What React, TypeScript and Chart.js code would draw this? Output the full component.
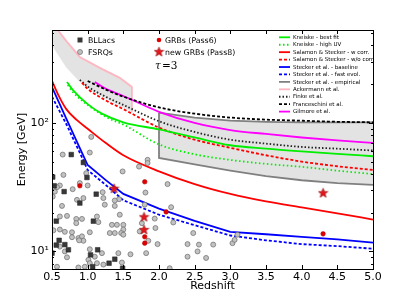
import React, { useEffect, useRef } from "react";
import { Chart, registerables } from "chart.js";

Chart.register(...registerables);

// ---------- data (redshift z, energy E in GeV) ----------
const fsrqZ = [0.65, 1.03, 0.98, 0.66, 0.89, 1.0, 0.61, 0.57, 0.79, 0.54, 1.21, 0.51, 1.22, 0.85, 0.94, 1.44, 1.38, 1.24, 0.64, 1.38,
  0.61, 0.71, 0.84, 0.92, 0.84, 1.13, 1.15, 1.34, 1.41, 0.52, 0.61, 0.68, 0.78, 0.78, 0.87, 0.92, 0.94, 1.03, 1.31, 1.38,
  0.88, 0.61, 0.68, 0.71, 1.03, 1.2, 1.1, 1.01, 1.03, 1.13, 1.22, 0.96, 0.87, 0.57, 1.43, 1.84, 1.84, 1.72, 1.49, 2.12,
  1.81, 1.8, 2.17, 1.45, 1.5, 1.5, 1.47, 1.5, 1.76, 1.95, 1.73, 1.85, 1.98, 2.2, 2.4, 1.6, 1.82, 1.48, 2.15, 2.48,
  2.56, 2.76, 2.54, 2.4, 2.66, 3.03, 3.06, 3.1, 1.05, 1.94];
const fsrqE = [56.7, 58.8, 40.6, 39.4, 34.0, 32.6, 32.6, 31.6, 30.5, 29.2, 28.9, 26.7, 26.0, 25.2, 26.0, 25.5, 24.9, 23.1, 22.6, 22.6,
  18.7, 18.9, 17.9, 17.9, 16.6, 18.7, 16.9, 16.1, 16.1, 14.6, 14.8, 14.2, 14.1, 12.9, 12.7, 13.1, 12.1, 14.1, 13.9, 13.9,
  12.2, 10.9, 10.0, 9.0, 10.4, 9.7, 9.1, 8.6, 8.1, 8.1, 7.9, 7.6, 7.5, 7.6, 9.7, 51.6, 48.7, 45.7, 41.9, 33.4,
  28.7, 23.1, 22.1, 19.3, 16.1, 14.8, 13.9, 13.5, 16.6, 15.2, 14.3, 12.1, 11.4, 16.8, 11.4, 9.5, 9.7, 8.2, 7.4, 13.9,
  11.3, 11.3, 10.0, 9.1, 8.9, 11.6, 12.3, 13.5, 77.8, 18.0];

const bllacZ = [0.77, 0.94, 0.99, 0.51, 0.53, 0.67, 1.12, 0.89, 0.56, 1.08, 0.6, 0.56, 0.68, 0.73, 1.14, 1.04, 1.3, 1.38, 1.07, 1.49, 0.5];
const bllacE = [56.7, 49.2, 37.6, 37.9, 32.4, 29.2, 27.9, 23.8, 17.2, 17.2, 12.2, 11.2, 11.3, 10.3, 10.3, 9.4, 8.1, 8.7, 7.6, 7.4, 9.7];

const grbP6Z = [0.89, 1.8, 2.1, 1.8, 1.8, 4.3];
const grbP6E = [32.4, 34.8, 20.3, 13.0, 11.6, 13.7];
const grbP8Z = [1.37, 1.79, 1.79, 4.3];
const grbP8E = [31, 18.6, 14.8, 28.6];

// EBL model curves
const kneiskeBestZ = [0.71, 0.8, 1.0, 1.2, 1.5, 2.0, 2.5, 3.0, 3.5, 4.0, 4.5, 5.0];
const kneiskeBestE = [208, 178, 140, 118, 101, 89, 77, 67, 63, 60, 57.5, 55];
const kneiskeHighZ = [0.72, 0.8, 1.0, 1.3, 1.5, 2.0, 2.5, 3.0, 3.5, 4.0, 4.5, 5.0];
const kneiskeHighE = [197, 172, 138, 108, 97, 68, 57, 51.5, 48, 45.5, 42.5, 40];
const salamonWZ = [0.5, 0.6, 0.7, 0.85, 1.0, 1.25, 1.5, 2.0, 2.5, 3.0, 3.5, 4.0, 4.5, 5.0];
const salamonWE = [212, 160, 128, 105, 90, 70, 56, 42, 33.4, 28, 24.5, 22, 19.8, 17.7];
const salamonWoZ = [0.92, 1.0, 1.25, 1.5, 2.0, 2.5, 3.0, 3.5, 4.0, 4.5, 5.0];
const salamonWoE = [205, 184, 150, 128, 92, 74, 64, 56, 50, 46, 43];
const steckerBaseZ = [0.5, 0.7, 0.9, 1.0, 1.25, 1.5, 2.0, 2.5, 3.0, 3.5, 4.0, 4.5, 5.0];
const steckerBaseE = [190, 108, 62, 47, 36, 28, 21.5, 17.3, 14.2, 13.6, 13.0, 12.4, 11.7];
const steckerFastZ = [0.5, 0.7, 0.9, 1.0, 1.25, 1.5, 2.0, 2.5, 3.0, 3.5, 4.0, 4.5, 5.0];
const steckerFastE = [160, 98, 57, 43, 33, 25, 19.3, 16, 13.3, 12.2, 11.4, 11.0, 10.5];
const steckerEmpUpZ = [2.0, 2.5, 3.0, 3.5, 4.0, 4.5, 5.0];
const steckerEmpUpE = [120, 110, 104, 102, 101, 101, 101];
const steckerEmpLoZ = [2.0, 2.0, 2.5, 3.0, 3.5, 4.0, 4.5, 5.0];
const steckerEmpLoE = [120, 53.4, 47.5, 42.5, 38.5, 35.8, 34, 33];
const ackermannUpZ = [0.5, 0.58, 0.71, 0.89, 1.17, 1.45, 1.62, 1.62];
const ackermannUpE = [640, 528, 427, 326, 268, 224, 190, 122];
const ackermannLoZ = [0.5, 0.7, 0.89, 1.1, 1.3, 1.62];
const ackermannLoE = [400, 270, 208, 172, 150, 122];
const finkeZ = [0.89, 1.0, 1.25, 1.5, 2.0, 2.5, 3.0, 3.5, 4.0, 4.5, 5.0];
const finkeE = [216, 192, 160, 138, 103, 85, 74, 69, 65, 63, 61];
const franceschiniZ = [1.0, 1.25, 1.5, 2.0, 2.5, 3.0, 3.5, 4.0, 4.5, 5.0];
const franceschiniE = [212, 182, 160, 132, 118, 110, 106, 104, 102, 101];
const gilmoreZ = [1.1, 1.25, 1.5, 2.0, 2.5, 3.0, 3.5, 4.0, 4.5, 5.0];
const gilmoreE = [208, 185, 162, 122, 100, 88, 82, 77, 73, 70];

const xTicks = [0.5, 1.0, 1.5, 2.0, 2.5, 3.0, 3.5, 4.0, 4.5, 5.0];
const yTicks = [10, 100];
const yTickLabels = ["10\u00b9", "10\u00b2"];
const yMinorTicks = [8, 9, 20, 30, 40, 50, 60, 70, 80, 90, 200, 300, 400, 500];

const FONT = '"DejaVu Sans", sans-serif';

const modelNames = [
  "Kneiske - best fit", "Kneiske - high UV", "Salamon & Stecker - w corr.", "Salamon & Stecker - w/o corr.",
  "Stecker et al. - baseline", "Stecker et al. - fast evol.", "Stecker et al. - empirical", "Ackermann et al.",
  "Finke et al.", "Franceschini et al.", "Gilmore et al.",
];
const modelColors = ["#00ee00", "#00ee00", "#ff0000", "#ff0000", "#0000ff", "#0000ff", "#808080", "#ffb6c1", "#222222", "#000000", "#ff00ff"];
const modelDashes: number[][] = [[], [1.5, 2.5], [], [3, 2], [], [3, 2], [], [], [1.5, 2], [3, 2], []];

function pts(zs: number[], es: number[]) {
  return zs.map((x, i) => ({ x, y: es[i] }));
}

export default function App() {
  const ref = useRef<HTMLCanvasElement>(null);

  useEffect(() => {
    const star = document.createElement("canvas");
    star.width = 11;
    star.height = 11;
    const sc = star.getContext("2d")!;
    sc.beginPath();
    for (let k = 0; k < 10; k++) {
      const r = k % 2 === 0 ? 5 : 2.1;
      const a = -Math.PI / 2 + (k * Math.PI) / 5;
      const px = 5.5 + r * Math.cos(a);
      const py = 5.9 + r * Math.sin(a);
      if (k === 0) sc.moveTo(px, py);
      else sc.lineTo(px, py);
    }
    sc.closePath();
    sc.fillStyle = "#e8141b";
    sc.fill();
    sc.strokeStyle = "#8b0000";
    sc.lineWidth = 0.6;
    sc.stroke();

    const line = (i: number, zs: number[], es: number[], smooth = true) => ({
      label: modelNames[i],
      data: pts(zs, es),
      showLine: true,
      borderColor: modelColors[i],
      borderDash: modelDashes[i],
      borderWidth: 1.8,
      pointRadius: 0,
      fill: false,
      cubicInterpolationMode: smooth ? "monotone" : "default",
      tension: 0,
    });

    const datasets: any[] = [
      { label: "new GRBs (Pass8)", data: pts(grbP8Z, grbP8E), pointStyle: star, pointRadius: 5 },
      { label: "GRBs (Pass6)", data: pts(grbP6Z, grbP6E), pointStyle: "circle", pointRadius: 2.3, backgroundColor: "#e00000", borderColor: "#b00000", borderWidth: 0.5 },
      { label: "BLLacs", data: pts(bllacZ, bllacE), pointStyle: "rect", pointRadius: 3.3, backgroundColor: "#383838", borderColor: "#222", borderWidth: 0.5 },
      { label: "FSRQs", data: pts(fsrqZ, fsrqE), pointStyle: "circle", pointRadius: 2.5, backgroundColor: "#c2c2c2", borderColor: "#6a6a6a", borderWidth: 0.7 },
      line(0, kneiskeBestZ, kneiskeBestE),
      line(1, kneiskeHighZ, kneiskeHighE),
      line(2, salamonWZ, salamonWE),
      line(3, salamonWoZ, salamonWoE),
      line(4, steckerBaseZ, steckerBaseE, false),
      line(5, steckerFastZ, steckerFastE, false),
      line(9, franceschiniZ, franceschiniE),
      line(8, finkeZ, finkeE),
      line(10, gilmoreZ, gilmoreE),
      // Stecker empirical band (upper = index 13, lower = index 14)
      { label: modelNames[6], data: pts(steckerEmpUpZ, steckerEmpUpE), showLine: true, borderColor: "#808080", borderWidth: 1.8, pointRadius: 0, fill: false },
      { label: modelNames[6] + " low", data: pts(steckerEmpLoZ, steckerEmpLoE), showLine: true, borderColor: "#808080", borderWidth: 1.8, pointRadius: 0, fill: { target: 13 }, backgroundColor: "rgba(200,200,200,0.5)" },
      // Ackermann band (upper = index 15, lower = index 16)
      { label: modelNames[7], data: pts(ackermannUpZ, ackermannUpE), showLine: true, borderColor: "#ffb6c1", borderWidth: 1.8, pointRadius: 0, fill: false },
      { label: modelNames[7] + " low", data: pts(ackermannLoZ, ackermannLoE), showLine: true, borderColor: "rgba(0,0,0,0)", borderWidth: 0, pointRadius: 0, fill: { target: 15 }, backgroundColor: "rgba(200,200,200,0.5)" },
    ];

    const decor = {
      id: "decor",
      afterDraw(chart: any) {
        const ctx = chart.ctx as CanvasRenderingContext2D;
        const a = chart.chartArea;
        const xs = chart.scales.x;
        const ys = chart.scales.y;
        ctx.save();
        ctx.strokeStyle = "#000";
        ctx.lineWidth = 1;
        ctx.setLineDash([]);
        ctx.strokeRect(Math.round(a.left) + 0.5, Math.round(a.top) + 0.5, Math.round(a.right - a.left), Math.round(a.bottom - a.top));
        ctx.beginPath();
        for (const v of xTicks) {
          const px = Math.round(xs.getPixelForValue(v)) + 0.5;
          ctx.moveTo(px, a.bottom); ctx.lineTo(px, a.bottom - 4);
          ctx.moveTo(px, a.top); ctx.lineTo(px, a.top + 4);
        }
        for (const v of yTicks) {
          const py = Math.round(ys.getPixelForValue(v)) + 0.5;
          ctx.moveTo(a.left, py); ctx.lineTo(a.left + 4, py);
          ctx.moveTo(a.right, py); ctx.lineTo(a.right - 4, py);
        }
        for (const v of yMinorTicks) {
          const py = Math.round(ys.getPixelForValue(v)) + 0.5;
          ctx.moveTo(a.left, py); ctx.lineTo(a.left + 2, py);
          ctx.moveTo(a.right, py); ctx.lineTo(a.right - 2, py);
        }
        ctx.stroke();

        // left legend (sources)
        ctx.textBaseline = "middle";
        ctx.textAlign = "left";
        ctx.font = `7.8px ${FONT}`;
        ctx.fillStyle = "#383838";
        ctx.fillRect(77.5, 37.5, 5, 5);
        ctx.fillStyle = "#000";
        ctx.fillText("BLLacs", 88, 40.5);
        ctx.beginPath();
        ctx.arc(80, 52, 2.5, 0, Math.PI * 2);
        ctx.fillStyle = "#c2c2c2"; ctx.fill();
        ctx.strokeStyle = "#6a6a6a"; ctx.lineWidth = 0.7; ctx.stroke();
        ctx.fillStyle = "#000";
        ctx.fillText("FSRQs", 88, 52.5);
        ctx.beginPath();
        ctx.arc(159, 40, 2.3, 0, Math.PI * 2);
        ctx.fillStyle = "#e00000"; ctx.fill();
        ctx.fillStyle = "#000";
        ctx.fillText("GRBs (Pass6)", 165, 40.5);
        ctx.drawImage(star, 159 - 5.5, 52 - 5.9);
        ctx.fillText("new GRBs (Pass8)", 165, 52.5);

        // tau label
        ctx.font = `italic 10.5px "DejaVu Serif", serif`;
        ctx.fillText("\u03c4", 155, 66);
        ctx.font = `10.5px "DejaVu Serif", serif`;
        ctx.fillText("=3", 162, 66);

        // right legend (models)
        ctx.font = `5.5px ${FONT}`;
        for (let i = 0; i < modelNames.length; i++) {
          const y = 37.3 + i * 7.43;
          ctx.beginPath();
          ctx.strokeStyle = modelColors[i];
          ctx.lineWidth = 1.8;
          ctx.setLineDash(modelDashes[i]);
          ctx.moveTo(279, y);
          ctx.lineTo(290, y);
          ctx.stroke();
          ctx.setLineDash([]);
          ctx.fillStyle = "#000";
          ctx.fillText(modelNames[i], 293, y + 0.3);
        }
        ctx.restore();
      },
    };

    const chart = new Chart(ref.current!, {
      type: "scatter",
      data: { datasets },
      options: {
        animation: false,
        responsive: false,
        maintainAspectRatio: false,
        layout: { padding: { left: 12, top: 30, right: 42, bottom: 0 } },
        plugins: { legend: { display: false }, tooltip: { enabled: false } },
        scales: {
          x: {
            type: "linear",
            min: 0.5,
            max: 5,
            afterBuildTicks: (s: any) => { s.ticks = xTicks.map((v) => ({ value: v })); },
            afterFit: (s: any) => { s.height = 31; },
            grid: { display: false, drawTicks: false },
            border: { display: false },
            ticks: { padding: 2, color: "#000", font: { family: FONT, size: 11 }, maxRotation: 0, autoSkip: false, callback: (v: any) => Number(v).toFixed(1) },
            title: { display: true, text: "Redshift", color: "#000", font: { family: FONT, size: 11 }, padding: { top: 0, bottom: 7 } },
          },
          y: {
            type: "logarithmic",
            min: 7.3,
            max: 528,
            afterBuildTicks: (s: any) => { s.ticks = yTicks.map((v) => ({ value: v })); },
            afterFit: (s: any) => { s.width = 40; },
            grid: { display: false, drawTicks: false },
            border: { display: false },
            ticks: { padding: 3, color: "#000", font: { family: FONT, size: 11 }, autoSkip: false, callback: (_v: any, i: number) => yTickLabels[i] },
            title: { display: true, text: "Energy [GeV]", color: "#000", font: { family: FONT, size: 11 }, padding: { top: 4, bottom: 0 } },
          },
        },
      } as any,
      plugins: [decor],
    });
    return () => chart.destroy();
  }, []);

  return (
    <div style={{ position: "fixed", left: 0, top: 0, width: 415, height: 300, background: "#fff" }}>
      <canvas ref={ref} width={415} height={300} style={{ display: "block", width: 415, height: 300 }} />
    </div>
  );
}
